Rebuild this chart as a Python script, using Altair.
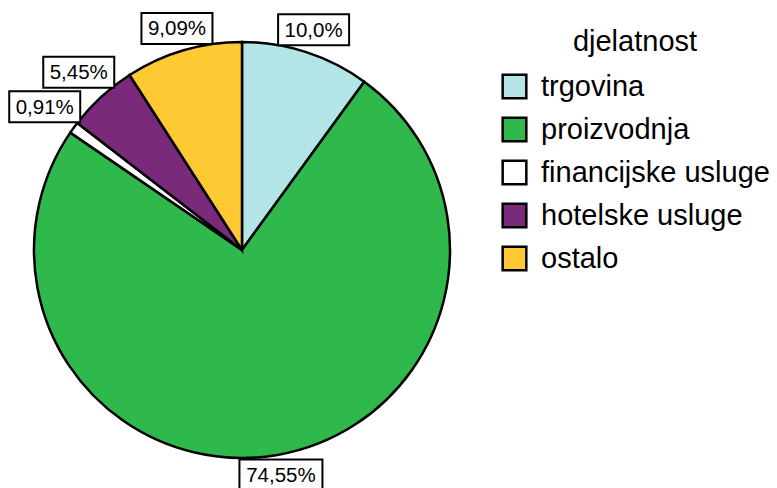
import altair as alt
import pandas as pd

categories = ["trgovina", "proizvodnja", "financijske usluge", "hotelske usluge", "ostalo"]
counts = [11, 82, 1, 6, 10]
labels = ["10,0%", "74,55%", "0,91%", "5,45%", "9,09%"]
colors = ["#b3e5e6", "#2fb84c", "#ffffff", "#7a2a7b", "#fec932"]

df = pd.DataFrame({"djelatnost": categories, "count": counts, "label": labels})

CX, CY, R = 242, 250, 208

base = alt.Chart(df).transform_window(
    ord="row_number()"
).transform_joinaggregate(
    total="sum(count)"
).transform_window(
    cum="sum(count)", frame=[None, 0]
).transform_calculate(
    mid="(datum.cum - datum.count/2) / datum.total * 2 * PI",
    w="12 * length(datum.label) + 11",
    h="31",
).transform_calculate(
    r=f"{R - 2} + datum.w/2 * abs(sin(datum.mid)) + datum.h/2 * abs(cos(datum.mid))",
).transform_calculate(
    lx=f"{CX} + datum.r * sin(datum.mid)",
    ly=f"{CY} - datum.r * cos(datum.mid)",
).transform_calculate(
    x1="datum.lx - datum.w/2",
    x2="datum.lx + datum.w/2",
    y1="datum.ly - datum.h/2",
    y2="datum.ly + datum.h/2",
)

pie = base.mark_arc(outerRadius=R, stroke="black", strokeWidth=2.5).encode(
    theta=alt.Theta("count:Q", stack=True),
    order=alt.Order("ord:Q", sort="ascending"),
    color=alt.Color(
        "djelatnost:N",
        scale=alt.Scale(domain=categories, range=colors),
        legend=alt.Legend(
            title="djelatnost",
            orient="none",
            legendX=500,
            legendY=28,
            titleAnchor="middle",
            titleFont="Liberation Sans",
            titleFontSize=29,
            titleFontWeight="normal",
            titleColor="black",
            titlePadding=15,
            labelFont="Liberation Sans",
            labelFontSize=29,
            labelColor="black",
            labelOffset=12,
            labelLimit=400,
            symbolType="square",
            symbolSize=560,
            symbolStrokeColor="black",
            symbolStrokeWidth=2.5,
            rowPadding=8,
        ),
    ),
    x=alt.value(CX),
    y=alt.value(CY),
)

boxes = base.mark_rect(fill="white", stroke="black", strokeWidth=2).encode(
    x=alt.X("x1:Q", scale=None),
    x2="x2:Q",
    y=alt.Y("y1:Q", scale=None),
    y2="y2:Q",
)

texts = base.mark_text(
    font="Liberation Sans", fontSize=20.5, color="black", baseline="middle", align="center", dy=1
).encode(
    x=alt.X("lx:Q", scale=None),
    y=alt.Y("ly:Q", scale=None),
    text="label:N",
)

chart = alt.layer(pie, boxes, texts).properties(
    width=777, height=488, autosize=alt.AutoSizeParams(type="none"), padding=0
).configure_view(stroke=None)

chart.save("out.html", embed_options={"renderer": "svg", "actions": False})
